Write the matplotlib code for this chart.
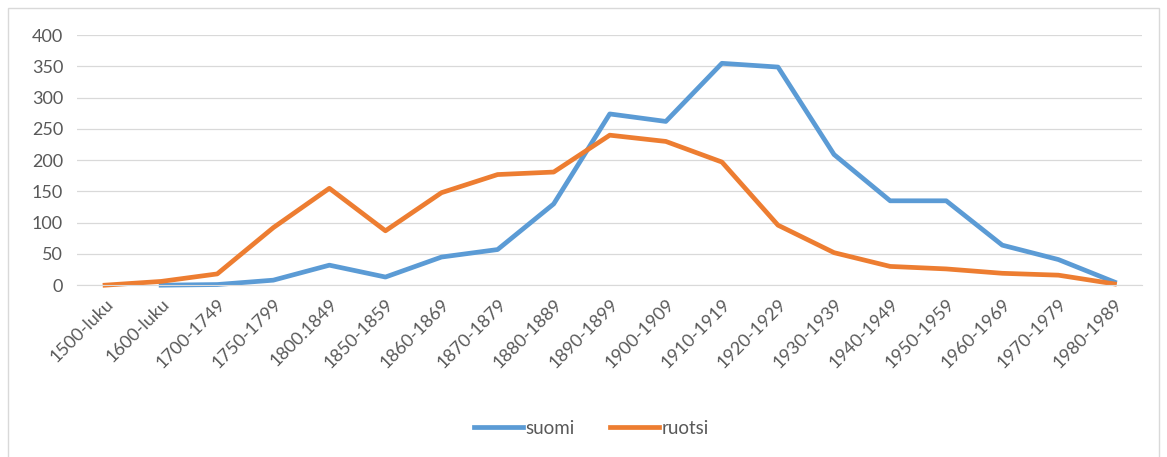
import matplotlib.pyplot as plt
import numpy as np
from matplotlib.patches import Rectangle

categories = ['1500-luku', '1600-luku', '1700-1749', '1750-1799', '1800.1849', '1850-1859',
              '1860-1869', '1870-1879', '1880-1889', '1890-1899', '1900-1909', '1910-1919',
              '1920-1929', '1930-1939', '1940-1949', '1950-1959', '1960-1969', '1970-1979',
              '1980-1989']
suomi = [np.nan, 0, 1, 8, 32, 13, 45, 57, 130, 274, 262, 355, 349, 209, 135, 135, 64, 41, 5]
ruotsi = [0, 6, 18, 92, 155, 87, 148, 177, 181, 240, 230, 197, 96, 52, 30, 26, 19, 16, 2]

plt.rcParams['font.family'] = ['Lato', 'DejaVu Sans']

fig = plt.figure(figsize=(11.67, 4.57), dpi=100)
ax = fig.add_axes([0.066, 0.376, 0.913, 0.547])

x = np.arange(len(categories))
ax.plot(x, suomi, color='#5B9BD5', lw=3.4, label='suomi', clip_on=False, solid_joinstyle='round')
ax.plot(x, ruotsi, color='#ED7D31', lw=3.4, label='ruotsi', clip_on=False, solid_joinstyle='round')

ax.set_ylim(0, 400)
ax.set_yticks(range(0, 401, 50))
ax.set_xlim(-0.5, len(categories) - 0.5)
ax.set_xticks(x)
ax.set_xticklabels(categories, rotation=45, ha='right', rotation_mode='anchor')

ax.grid(axis='y', color='#D9D9D9', lw=0.9)
ax.set_axisbelow(True)
for s in ['top', 'right', 'left']:
    ax.spines[s].set_visible(False)
ax.spines['bottom'].set_color('#D9D9D9')
ax.tick_params(axis='both', length=0, colors='#595959', labelsize=13)
ax.tick_params(axis='x', pad=8)
ax.tick_params(axis='y', pad=10)

fig.legend(loc='center', bbox_to_anchor=(0.507, 0.063), ncol=2, frameon=False,
           fontsize=13.5, handlelength=2.6, handletextpad=0.15, columnspacing=1.9,
           labelcolor='#595959')

fig.patches.append(Rectangle((0.007, -0.01), 0.986, 0.992, transform=fig.transFigure,
                             fill=False, edgecolor='#D9D9D9', lw=1))

plt.savefig('out.png', dpi=100)
